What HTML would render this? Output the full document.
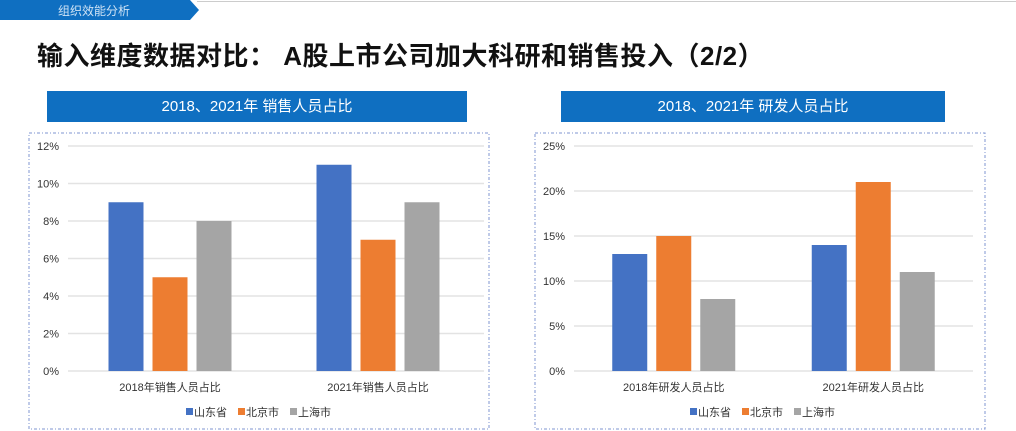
<!DOCTYPE html>
<html><head><meta charset="utf-8"><style>
body{margin:0;width:1016px;height:431px;overflow:hidden;background:#fff;font-family:"Liberation Sans","Noto Sans CJK SC",sans-serif;position:relative}
.abs{position:absolute}
.hdr{position:absolute;background:#0f6fc1;color:#fff;font-size:15px;text-align:center;line-height:31px}
</style></head><body>
<div class="abs" style="left:197px;top:1px;width:819px;height:1px;background:#ccc"></div>
<svg class="abs" style="left:0;top:0" width="200" height="21"><polygon points="0,0 190,0 199,10 190,20 0,20" fill="#0f6fc1"/><text x="58" y="15" fill="#cfe3f5" font-size="12" font-family="Liberation Sans,Noto Sans CJK SC,sans-serif">组织效能分析</text></svg>
<div class="abs" style="left:37px;top:36px;font-size:26px;font-weight:bold;color:#111;white-space:nowrap;letter-spacing:0.5px">输入维度数据对比： A股上市公司加大科研和销售投入（2/2）</div>
<div class="hdr" style="left:47px;top:91px;width:420px;height:31px">2018、2021年 销售人员占比</div>
<div class="hdr" style="left:561px;top:91px;width:384px;height:31px">2018、2021年 研发人员占比</div>
<svg class="abs" style="left:0;top:0" width="1016" height="431" id="svg"></svg>
<script>
const categoriesL=["2018年销售人员占比","2021年销售人员占比"];
const shandongL=[9,11];
const beijingL=[5,7];
const shanghaiL=[8,9];
const ticksL=[0,2,4,6,8,10,12];
const categoriesR=["2018年研发人员占比","2021年研发人员占比"];
const shandongR=[13,14];
const beijingR=[15,21];
const shanghaiR=[8,11];
const ticksR=[0,5,10,15,20,25];
const seriesNames=["山东省","北京市","上海市"];
const colors=["#4472c4","#ed7d31","#a5a5a5"];
const NS="http://www.w3.org/2000/svg";
const svg=document.getElementById('svg');
function mk(t,a,p){const e=document.createElementNS(NS,t);for(const k in a)e.setAttribute(k,a[k]);(p||svg).appendChild(e);return e;}
function chart(o){
  const b=mk('rect',{x:o.bx,y:133,width:o.bw,height:296,fill:'none',stroke:'#7f96d0','stroke-dasharray':'3,2,1,2'});
  
  
  const y0=371,y1=146,max=o.ticks[o.ticks.length-1];
  const Y=v=>y0-(v/max)*(y0-y1);
  o.ticks.forEach(t=>{
    const l=mk('line',{x1:o.px0,x2:o.px1,y1:Y(t),y2:Y(t),stroke:'#e3e3e3','stroke-width':1.5});
    
    
    const tx=mk('text',{x:o.px0-9,y:Y(t)+4,'text-anchor':'end','font-size':11,fill:'#333'});
    tx.textContent=t+'%';
    
    
  });
  const cw=(o.px1-o.px0)/o.cats.length,bw=35,gap=9;
  o.cats.forEach((c,i)=>{
    const cx=o.px0+cw*(i+0.5)+o.shift;
    o.series.forEach((s,j)=>{
      const x=cx+(j-1)*(bw+gap)-bw/2;
      const r=mk('rect',{x:x,y:Y(s[i]),width:bw,height:y0-Y(s[i]),fill:colors[j]});
      
      
    });
    const t=mk('text',{x:cx,y:391,'text-anchor':'middle','font-size':11,fill:'#333'});
    t.textContent=c;
    
    
  });
  let lx=o.lx;
  seriesNames.forEach((n,j)=>{
    mk('rect',{x:lx,y:408,width:7,height:7,fill:colors[j]});
    const t=mk('text',{x:lx+8,y:416,'font-size':11,fill:'#333'});
    t.textContent=n;
    
    
    lx+=52;
  });
}
chart({name:'sales-chart',bx:29,bw:460,px0:68,px1:484,ticks:ticksL,cats:categoriesL,series:[shandongL,beijingL,shanghaiL],lx:186,shift:-2});
chart({name:'rd-chart',bx:535,bw:450,px0:574,px1:973,ticks:ticksR,cats:categoriesR,series:[shandongR,beijingR,shanghaiR],lx:690,shift:0});
</script>
</body></html>
